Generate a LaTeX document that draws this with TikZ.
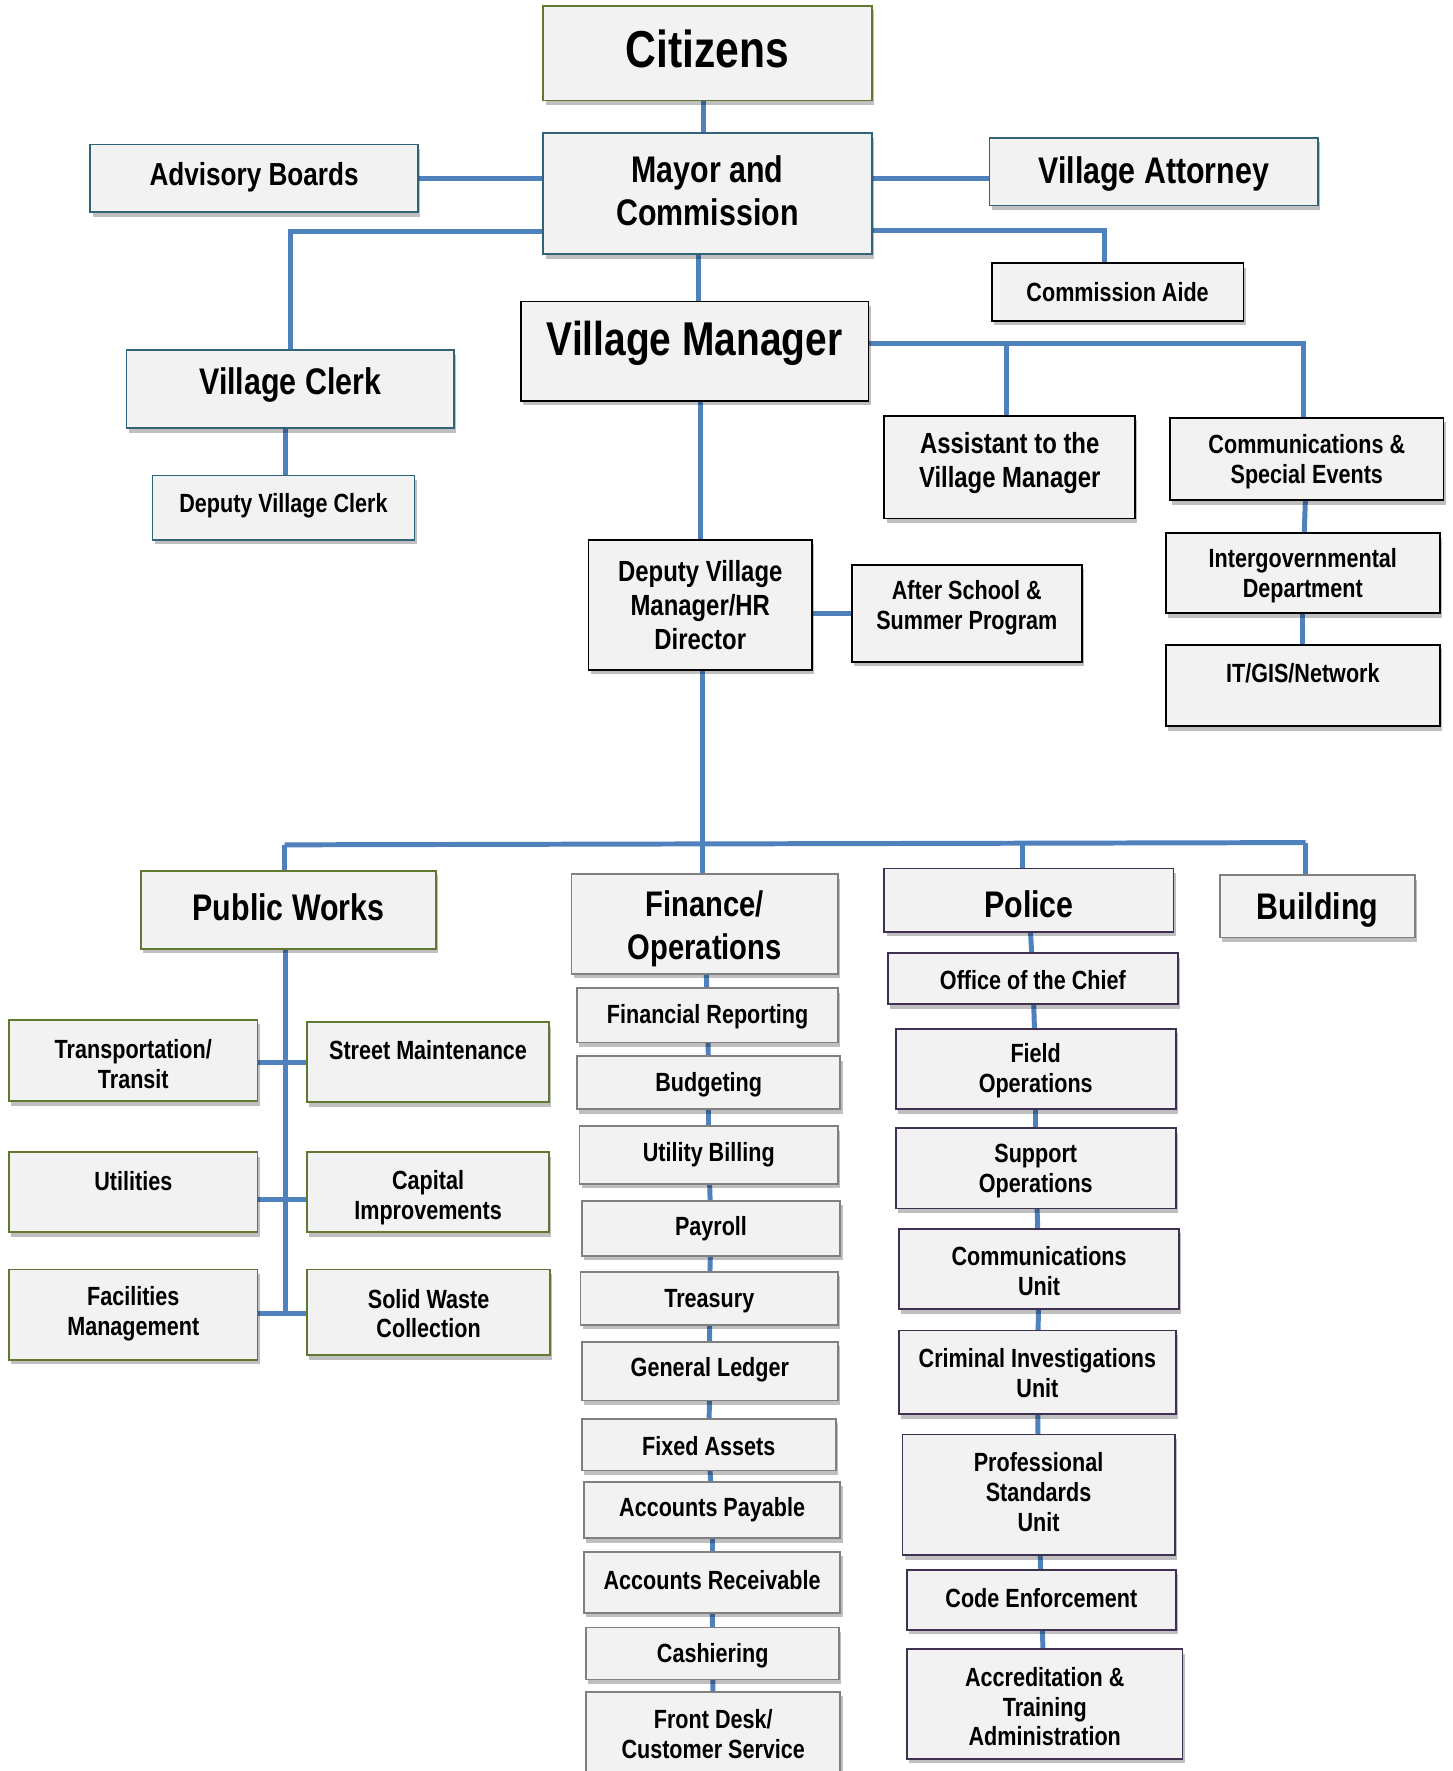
\documentclass[tikz,border=0pt]{standalone}
\usepackage{fontspec}
\setmainfont{Liberation Sans}[FakeStretch=0.82]
\usetikzlibrary{shadows,backgrounds,calc}
\definecolor{boxfill}{RGB}{242,242,242}
\definecolor{cgreen}{RGB}{96,120,50}
\definecolor{cteal}{RGB}{49,100,120}
\definecolor{cgray}{RGB}{128,128,128}
\definecolor{cpurple}{RGB}{64,49,82}
\definecolor{lineblue}{RGB}{79,129,189}
\newcommand{\fsA}{\fontsize{46}{52}\selectfont\bfseries}
\newcommand{\fsB}{\fontsize{42}{48}\selectfont\bfseries}
\newcommand{\fsC}{\fontsize{32.8}{38}\selectfont\bfseries}
\newcommand{\fsD}{\fontsize{31.5}{38}\selectfont\bfseries}
\newcommand{\fsE}{\fontsize{28.2}{33}\selectfont\bfseries}
\newcommand{\fsF}{\fontsize{25.8}{30}\selectfont\bfseries}
\newcommand{\fsG}{\fontsize{23.3}{26.5}\selectfont\bfseries}
\tikzset{
  orgbox/.style={rectangle,fill=boxfill,line width=1.6pt,inner sep=0pt,outer sep=0pt,
    drop shadow={shadow xshift=2pt,shadow yshift=-4pt,opacity=0.25,fill=black}},
  orgtext/.style={align=center,inner sep=0pt,text=black},
  conn/.style={draw=lineblue,line width=4.4pt}
}
\newcommand{\orgbox}[9]{%
  \node[orgbox,draw=#2,minimum width={#5-#3},minimum height={#6-#4}] (#1) at ({(#3+#5)/2},{(#4+#6)/2}) {};
  \node[orgtext,font=#7] (#1-t) at ({(#3+#5)/2},{#8+2}) {#9};
}
\begin{document}
\begin{tikzpicture}[x=1pt,y=-1pt]
\useasboundingbox (0,0) rectangle (1286,1568);
\begin{pgfonlayer}{background}
\fill[white] (0,0) rectangle (1286,1568);
\end{pgfonlayer}
% top
\orgbox{cit}{cgreen}{481}{5}{772}{89}{\fsA}{41}{Citizens}
\orgbox{mayor}{cteal}{481}{118}{772}{225}{\fsC}{167}{Mayor and\\Commission}
\orgbox{adv}{cteal}{80}{128}{370}{188}{\fsE}{155}{Advisory Boards}
\orgbox{att}{cteal}{876}{122}{1167}{182}{\fsC}{152}{Village Attorney}
\orgbox{aide}{black}{878}{233}{1101}{284}{\fsG}{257}{Commission Aide}
\orgbox{vm}{black}{461}{267}{769}{355}{\fsB}{302}{Village Manager}
\orgbox{clerk}{cteal}{112}{310}{402}{379}{\fsC}{339}{Village Clerk}
\orgbox{dclerk}{cteal}{135}{421}{367}{478}{\fsG}{446}{Deputy Village Clerk}
\orgbox{asst}{black}{783}{368}{1005}{459}{\fsF}{408}{Assistant to the\\Village Manager}
\orgbox{comm}{black}{1036}{370}{1278}{443}{\fsG}{407}{Communications \&\\Special Events}
\orgbox{igov}{black}{1032}{472}{1275}{543}{\fsG}{508}{Intergovernmental\\Department}
\orgbox{it}{black}{1032}{571}{1275}{643}{\fsG}{594}{IT/GIS/Network}
\orgbox{dvm}{black}{521}{478}{719}{593}{\fsF}{534}{Deputy Village\\Manager/HR\\Director}
\orgbox{after}{black}{754}{500}{958}{586}{\fsG}{536}{After School \&\\Summer Program}
% departments
\orgbox{pw}{cgreen}{125}{771}{386}{840}{\fsC}{801}{Public Works}
\orgbox{fin}{cgray}{506}{774}{742}{862}{\fsD}{820}{Finance/\\Operations}
\orgbox{pol}{cpurple}{783}{769}{1039}{825}{\fsC}{799}{Police}
\orgbox{bld}{cgray}{1080}{775}{1253}{830}{\fsC}{804}{Building}
% public works
\orgbox{trans}{cgreen}{8}{903}{228}{975}{\fsG}{940}{Transportation/\\Transit}
\orgbox{street}{cgreen}{272}{905}{486}{976}{\fsG}{928}{Street Maintenance}
\orgbox{util}{cgreen}{8}{1020}{228}{1091}{\fsG}{1044}{Utilities}
\orgbox{cap}{cgreen}{272}{1020}{486}{1091}{\fsG}{1058}{Capital\\Improvements}
\orgbox{fac}{cgreen}{8}{1124}{228}{1204}{\fsG}{1161}{Facilities\\Management}
\orgbox{sw}{cgreen}{272}{1124}{487}{1200}{\fsG}{1161}{Solid Waste\\Collection}
% finance
\orgbox{fr}{cgray}{511}{875}{742}{923}{\fsG}{898}{Financial Reporting}
\orgbox{bud}{cgray}{511}{935}{744}{982}{\fsG}{958}{Budgeting}
\orgbox{ub}{cgray}{513}{997}{742}{1048}{\fsG}{1020}{Utility Billing}
\orgbox{pay}{cgray}{515}{1063}{744}{1112}{\fsG}{1086}{Payroll}
\orgbox{tre}{cgray}{514}{1126}{742}{1173}{\fsG}{1150}{Treasury}
\orgbox{gl}{cgray}{515}{1188}{742}{1240}{\fsG}{1211}{General Ledger}
\orgbox{fa}{cgray}{515}{1256}{740}{1302}{\fsG}{1278}{Fixed Assets}
\orgbox{ap}{cgray}{517}{1312}{744}{1362}{\fsG}{1335}{Accounts Payable}
\orgbox{ar}{cgray}{517}{1374}{744}{1428}{\fsG}{1397}{Accounts Receivable}
\orgbox{cash}{cgray}{519}{1441}{743}{1487}{\fsG}{1464}{Cashiering}
\orgbox{fd}{cgray}{519}{1498}{744}{1574}{\fsG}{1533}{Front Desk/\\Customer Service}
% police
\orgbox{oc}{cpurple}{786}{844}{1043}{889}{\fsG}{866}{Office of the Chief}
\orgbox{fo}{cpurple}{793}{911}{1041}{982}{\fsG}{946}{Field\\Operations}
\orgbox{so}{cpurple}{793}{999}{1041}{1070}{\fsG}{1035}{Support\\Operations}
\orgbox{cu}{cpurple}{796}{1088}{1044}{1159}{\fsG}{1123}{Communications\\Unit}
\orgbox{ci}{cpurple}{796}{1178}{1041}{1252}{\fsG}{1214}{Criminal Investigations\\Unit}
\orgbox{ps}{cpurple}{799}{1270}{1040}{1377}{\fsG}{1319}{Professional\\Standards\\Unit}
\orgbox{ce}{cpurple}{803}{1390}{1041}{1443}{\fsG}{1413}{Code Enforcement}
\orgbox{acc}{cpurple}{803}{1460}{1047}{1557}{\fsG}{1509}{Accreditation \&\\Training\\Administration}
% connectors
\coordinate (jc) at (257,205);
\coordinate (ja) at (978,204);
\coordinate (jv) at (1154,304);
\coordinate (jv2) at (891,304);
\coordinate (bus) at (622,747);
\coordinate (busL) at (252,748);
\coordinate (busR) at (1156,746);
\coordinate (jp) at (905,747);
\coordinate (pw1) at (253,941);
\coordinate (pw2) at (253,1062);
\coordinate (pw3) at (253,1163);
\begin{pgfonlayer}{background}
\draw[conn] ([xshift=-4pt]cit.south) -- ([xshift=-4pt]mayor.north);
\draw[conn] (adv.east) -- (adv.east -| mayor.west);
\draw[conn] (mayor.east |- adv.east) -- (att.west |- adv.east);
\draw[conn] (mayor.west |- jc) -- (jc) -- (clerk.north -| jc);
\draw[conn] (mayor.east |- ja) -- (ja) -- (aide.north -| ja);
\draw[conn] ([xshift=3pt]vm.north |- mayor.south) -- ([xshift=3pt]vm.north);
\draw[conn] (clerk.south -| pw1) -- (dclerk.north -| pw1);
\draw[conn] (vm.east |- jv) -- (jv) -- (comm.north -| jv);
\draw[conn] (jv2) -- (asst.north -| jv2);
\draw[conn] (comm) -- (igov);
\draw[conn] (igov) -- (it);
\draw[conn] (vm.south -| dvm) -- (dvm.north);
\draw[conn] (after.west) -- (after.west -| dvm.east);
\draw[conn] (dvm.south -| bus) -- (bus);
\draw[conn] (busL) -- (busR);
\draw[conn] (busL) -- (pw.north -| busL);
\draw[conn] (bus) -- (fin.north -| bus);
\draw[conn] (jp) -- (pol.north -| jp);
\draw[conn] (busR) -- (bld.north -| busR);
\draw[conn] (pw.south -| pw3) -- (pw3);
\draw[conn] (trans.east |- pw1) -- (street.west |- pw1);
\draw[conn] (util.east |- pw2) -- (cap.west |- pw2);
\draw[conn] (fac.east |- pw3) -- (sw.west |- pw3);
\foreach \a/\b in {fin/fr,fr/bud,bud/ub,ub/pay,pay/tre,tre/gl,gl/fa,fa/ap,ap/ar,ar/cash,cash/fd}
  \draw[conn] (\a) -- (\b);
\foreach \a/\b in {pol/oc,oc/fo,fo/so,so/cu,cu/ci,ci/ps,ps/ce,ce/acc}
  \draw[conn] (\a) -- (\b);
\end{pgfonlayer}
\end{tikzpicture}
\end{document}
